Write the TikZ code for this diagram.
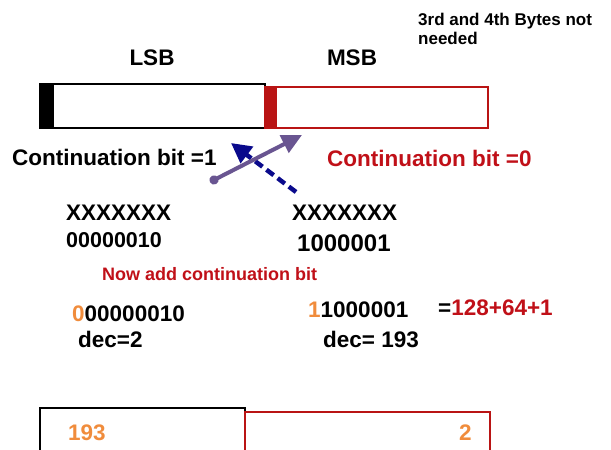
\documentclass[tikz,border=0pt]{standalone}
\usepackage{fontspec}
\setmainfont{Liberation Sans}
\usetikzlibrary{arrows.meta}

\definecolor{bitred}{RGB}{192,16,24}
\definecolor{boxred}{RGB}{185,20,20}
\definecolor{bitorange}{RGB}{240,140,60}
\definecolor{arrowpurple}{RGB}{105,85,145}
\definecolor{arrownavy}{RGB}{10,10,140}

\begin{document}
\begin{tikzpicture}[x=1pt,y=-1pt,
  txt/.style={inner sep=0pt,anchor=base west,font=\bfseries\fontsize{22.5}{26}\selectfont},
  note/.style={txt,font=\bfseries\fontsize{17}{20}\selectfont},
  title/.style={txt,anchor=base},
  bytebox/.style={draw,line width=1.5pt,inner sep=0pt}]

\useasboundingbox (0,0) rectangle (611,450);
\clip (0,0) rectangle (611,450);

\node (NoteTop) at (418,25) [note] {3rd and 4th Bytes not};
\node (NoteBottom) at (418,44) [note] {needed};

\node (LSB) at (152,65) [title] {LSB};
\node (MSB) at (352,65) [title] {MSB};

\node (LSBBox) at (152.5,106) [bytebox,draw=black,minimum width=225pt,minimum height=44pt] {};
\node (MSBBox) at (376.5,107.5) [bytebox,draw=boxred,minimum width=223pt,minimum height=41pt] {};
\fill [black] (LSBBox.north west) rectangle ([xshift=15pt]LSBBox.south west);
\fill [boxred] (MSBBox.north west) rectangle ([xshift=13pt]MSBBox.south west);

\node (ContOne) at (12,165) [txt] {Continuation bit =1};
\node (ContZero) at (327,166) [txt,text=bitred] {Continuation bit =0};

\coordinate (NavyTail) at (296,192);
\coordinate (NavyTip) at (231,143);
\coordinate (PurpleTail) at (210,182);
\coordinate (PurpleTip) at (302,135);
\draw [arrownavy,line width=4.5pt,dash pattern=on 9pt off 5pt,-{Triangle[length=20pt,width=20pt]}] (NavyTail) -- (NavyTip);
\draw [arrowpurple,line width=4pt,{Circle[length=9pt]}-{Triangle[length=20pt,width=19pt]}] (PurpleTail) -- (PurpleTip);

\node (LSBMask) at (66,220) [txt] {XXXXXXX};
\node (LSBBits) at (66,247) [txt,font=\bfseries\fontsize{21.5}{26}\selectfont] {00000010};
\node (MSBMask) at (292,220) [txt] {XXXXXXX};
\node (MSBBits) at (297,251) [txt,font=\bfseries\fontsize{24}{28}\selectfont] {1000001};

\node (AddBit) at (102,280) [note,font=\bfseries\fontsize{18}{21}\selectfont,text=bitred] {Now add continuation bit};

\node (LSBByte) at (72,321) [txt] {{\color{bitorange}0}00000010};
\node (LSBDec) at (78,347) [txt] {dec=2};
\node (MSBByte) at (308,317) [txt] {{\color{bitorange}1}1000001};
\node (MSBSum) at (438,315) [txt] {={\color{bitred}128+64+1}};
\node (MSBDec) at (323,347) [txt] {dec= 193};

\node (LowBox) at (142.5,439) [bytebox,draw=black,minimum width=205pt,minimum height=62pt] {};
\node (HighBox) at (367.5,441) [bytebox,draw=boxred,minimum width=245pt,minimum height=58pt] {};
\node (LowVal) at (68,440) [txt,text=bitorange] {193};
\node (HighVal) at (459,440) [txt,text=bitorange] {2};

\end{tikzpicture}
\end{document}
